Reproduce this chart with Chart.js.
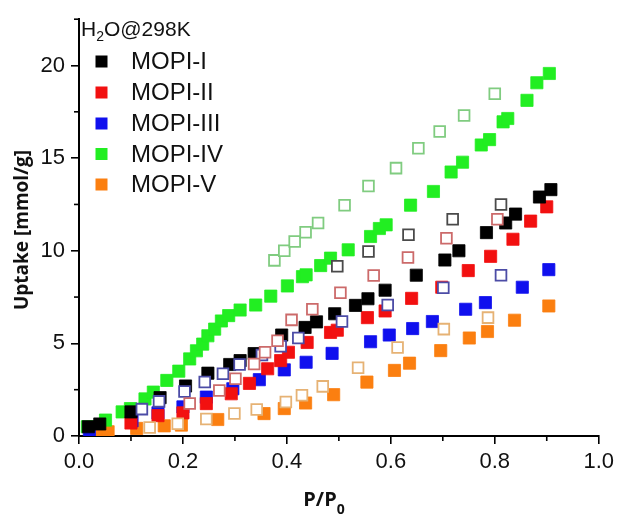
<!DOCTYPE html>
<html>
<head>
<meta charset="utf-8">
<script src="https://cdn.jsdelivr.net/npm/chart.js@4/dist/chart.umd.min.js"></script>
<style>
html,body{margin:0;padding:0;background:#fff;}
#wrap{width:619px;height:517px;position:relative;}
</style>
</head>
<body>
<div id="wrap"><canvas id="c" width="619" height="517"></canvas></div>
<script>
// ---- data ----
const seriesNames = ['MOPI-I','MOPI-II','MOPI-III','MOPI-IV','MOPI-V'];
const fillColors  = ['#000000','#f21010','#1010ee','#22ee22','#fb7f10'];
const openColors  = ['#4a4a4a','#cc6a6a','#4c4ca6','#80cc80','#e6b274'];

// adsorption (filled)
const adsI_x   = [0.018,0.04,0.1,0.156,0.205,0.248,0.29,0.31,0.337,0.39,0.435,0.457,0.492,0.532,0.556,0.589,0.649,0.704,0.731,0.784,0.821,0.84,0.886,0.908];
const adsI_y   = [0.5,0.65,1.3,2.07,2.7,3.39,3.86,4.07,4.45,5.45,5.86,6.16,6.6,7.05,7.41,7.87,8.68,9.5,10.0,10.98,11.5,11.98,12.9,13.3];
const adsII_x  = [0.1,0.152,0.2,0.245,0.293,0.328,0.363,0.388,0.403,0.439,0.484,0.497,0.555,0.589,0.64,0.698,0.749,0.792,0.835,0.869,0.90];
const adsII_y  = [0.7,1.1,1.25,1.75,2.28,2.84,3.63,4.07,4.52,5.05,5.59,5.71,6.39,6.75,7.43,8.03,8.93,9.7,10.62,11.6,12.37];
const adsIII_x = [0.02,0.102,0.152,0.2,0.245,0.296,0.347,0.395,0.437,0.487,0.561,0.597,0.642,0.68,0.744,0.782,0.853,0.904];
const adsIII_y = [0.3,0.82,1.25,1.57,2.1,2.55,3.04,3.57,3.98,4.46,5.09,5.45,5.8,6.18,6.84,7.2,8.03,8.98];
const adsIV_x  = [0.016,0.051,0.083,0.099,0.127,0.143,0.169,0.192,0.213,0.226,0.238,0.248,0.261,0.274,0.288,0.31,0.34,0.369,0.401,0.43,0.437,0.465,0.484,0.518,0.561,0.578,0.591,0.638,0.682,0.716,0.738,0.774,0.79,0.816,0.825,0.862,0.881,0.905];
const adsIV_y  = [0.5,0.86,1.3,1.48,2.0,2.37,3.0,3.5,4.16,4.6,4.96,5.41,5.77,6.21,6.5,6.8,7.07,7.55,8.1,8.6,8.7,9.2,9.6,10.05,10.77,11.2,11.4,12.46,13.2,14.25,14.78,15.71,16.0,16.96,17.14,18.12,19.07,19.57];
const adsV_x   = [0.034,0.056,0.111,0.164,0.197,0.267,0.356,0.395,0.436,0.49,0.554,0.607,0.636,0.696,0.751,0.786,0.838,0.904];
const adsV_y   = [0.23,0.23,0.41,0.55,0.59,0.89,1.21,1.48,1.78,2.23,2.91,3.54,3.93,4.61,5.29,5.64,6.25,7.02];

// desorption (open)
const desI_x   = [0.497,0.557,0.634,0.719,0.812];
const desI_y   = [9.16,9.96,10.86,11.7,12.5];
const desII_x  = [0.213,0.27,0.301,0.337,0.358,0.382,0.409,0.449,0.503,0.567,0.633,0.707,0.805];
const desII_y  = [1.75,2.46,3.09,3.89,4.52,5.14,6.27,6.84,7.73,8.66,9.64,10.68,11.7];
const desIII_x = [0.121,0.154,0.203,0.242,0.277,0.309,0.352,0.388,0.422,0.506,0.594,0.701,0.812];
const desIII_y = [1.45,1.87,2.4,2.91,3.36,3.86,4.37,4.84,5.29,6.18,7.07,8.0,8.68];
const desIV_x  = [0.376,0.395,0.415,0.436,0.460,0.511,0.557,0.61,0.653,0.694,0.741,0.80];
const desIV_y  = [9.48,10.0,10.5,11.0,11.5,12.46,13.5,14.46,15.53,16.44,17.3,18.48];
const desV_x   = [0.136,0.19,0.245,0.299,0.342,0.398,0.429,0.469,0.537,0.613,0.702,0.787];
const desV_y   = [0.46,0.66,0.92,1.21,1.43,1.84,2.2,2.68,3.68,4.78,5.77,6.39];

const xTicks = [0,0.2,0.4,0.6,0.8,1.0];
const xTickLabels = ['0.0','0.2','0.4','0.6','0.8','1.0'];
const xMinor = [0.1,0.3,0.5,0.7,0.9];
const yTicks = [0,5,10,15,20];
const yTickLabels = ['0','5','10','15','20'];
const yMinor = [2.5,7.5,12.5,17.5,22.5];

const adsX = [adsI_x,adsII_x,adsIII_x,adsIV_x,adsV_x];
const adsY = [adsI_y,adsII_y,adsIII_y,adsIV_y,adsV_y];
const desX = [desI_x,desII_x,desIII_x,desIV_x,desV_x];
const desY = [desI_y,desII_y,desIII_y,desIV_y,desV_y];

const pts = (xs,ys)=>xs.map((x,i)=>({x:x,y:ys[i]}));
const datasets = [];
for(let i=0;i<5;i++){
  datasets.push({label:seriesNames[i], data:pts(adsX[i],adsY[i]), showLine:false,
    pointStyle:'rect', pointRadius:8.6, pointBorderWidth:0.8,
    backgroundColor:fillColors[i], borderColor:fillColors[i], order:20+i});
}
for(let i=0;i<5;i++){
  datasets.push({label:seriesNames[i]+' des', data:pts(desX[i],desY[i]), showLine:false,
    pointStyle:'rect', pointRadius:7.6, pointBorderWidth:1.8,
    backgroundColor:'#ffffff', borderColor:openColors[i], order:10+i});
}

const FONT = '"Liberation Sans", Arial, sans-serif';
const TFONT = '"Open Sans", "Liberation Sans", sans-serif';

const deco = {
  id:'deco',
  afterDraw(chart){
    const ctx = chart.ctx;
    const xs = chart.scales.x, ys = chart.scales.y;
    const ca = chart.chartArea;
    ctx.save();
    ctx.strokeStyle = '#000'; ctx.lineWidth = 1.6;
    // minor ticks
    xMinor.forEach(v=>{ const p = xs.getPixelForValue(v); ctx.beginPath(); ctx.moveTo(p,ca.bottom); ctx.lineTo(p,ca.bottom+5); ctx.stroke(); });
    yMinor.forEach(v=>{ const p = ys.getPixelForValue(v); ctx.beginPath(); ctx.moveTo(ca.left,p); ctx.lineTo(ca.left-5,p); ctx.stroke(); });
    // legend title H2O@298K
    ctx.fillStyle = '#111';
    ctx.textBaseline = 'alphabetic'; ctx.textAlign = 'left';
    let x = 81, base = 36;
    ctx.font = '21px '+FONT;
    ctx.fillText('H', x, base); x += ctx.measureText('H').width;
    ctx.font = '14px '+FONT;
    ctx.fillText('2', x, base+5); x += ctx.measureText('2').width;
    ctx.font = '21px '+FONT;
    ctx.fillText('O@298K', x, base);
    // legend entries
    const rowY = [61.5,92.5,123.5,154,184.5];
    ctx.font = '24px '+FONT; ctx.textBaseline = 'middle';
    for(let i=0;i<5;i++){
      ctx.fillStyle = fillColors[i];
      ctx.fillRect(95.5, rowY[i]-6, 12, 12);
      ctx.fillStyle = '#111';
      ctx.fillText(seriesNames[i], 131, rowY[i]+1);
    }
    // x title P/P0
    ctx.font = 'bold 20px '+TFONT; ctx.textBaseline = 'alphabetic';
    const w1 = ctx.measureText('P/P').width;
    ctx.font = 'bold 14px '+TFONT;
    const w2 = ctx.measureText('0').width;
    let sx = 324 - (w1+w2)/2;
    ctx.font = 'bold 20px '+TFONT;
    ctx.fillText('P/P', sx, 506);
    ctx.font = 'bold 14px '+TFONT;
    ctx.fillText('0', sx+w1, 514);
    // y title
    ctx.save();
    ctx.translate(23, 230);
    ctx.rotate(-Math.PI/2);
    ctx.font = 'bold 19px '+TFONT; ctx.textAlign = 'center'; ctx.textBaseline = 'middle';
    ctx.fillText('Uptake [mmol/g]', 0, 0);
    ctx.restore();
    ctx.restore();
  }
};

new Chart(document.getElementById('c'), {
  type:'scatter',
  data:{datasets:datasets},
  options:{
    responsive:false, animation:false, devicePixelRatio:1,
    layout:{padding:{top:15,right:18,left:0,bottom:0}},
    plugins:{legend:{display:false}, tooltip:{enabled:false}},
    scales:{
      x:{type:'linear', min:0, max:1,
        afterBuildTicks:(s)=>{ s.ticks = xTicks.map(v=>({value:v})); },
        afterFit:(s)=>{ s.height = 81; },
        ticks:{color:'#111', font:{size:22, family:FONT}, padding:5, maxRotation:0,
          callback:(v)=>{ const k = xTicks.findIndex(t=>Math.abs(t-v)<1e-9); return k>=0?xTickLabels[k]:''; }},
        grid:{display:true, drawOnChartArea:false, drawTicks:true, tickLength:8, color:'#000', lineWidth:1.6},
        border:{display:true, color:'#000', width:2}
      },
      y:{type:'linear', min:0, max:22.5,
        afterBuildTicks:(s)=>{ s.ticks = yTicks.map(v=>({value:v})); },
        afterFit:(s)=>{ s.width = 79; },
        ticks:{color:'#111', font:{size:22, family:FONT}, padding:6,
          callback:(v)=>{ const k = yTicks.findIndex(t=>Math.abs(t-v)<1e-9); return k>=0?yTickLabels[k]:''; }},
        grid:{display:true, drawOnChartArea:false, drawTicks:true, tickLength:8, color:'#000', lineWidth:1.6},
        border:{display:true, color:'#000', width:2}
      }
    }
  },
  plugins:[deco]
});
</script>
</body>
</html>
